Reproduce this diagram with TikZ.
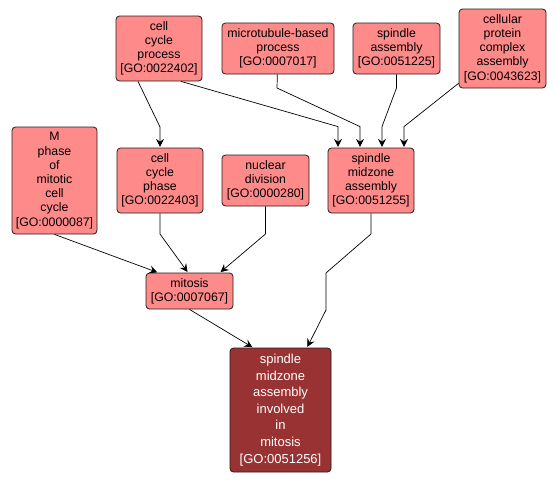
\documentclass[tikz,border=0pt]{standalone}
\usepackage{fontspec}
\setmainfont{Liberation Sans}
\usetikzlibrary{arrows.meta,positioning}
\definecolor{TermFill}{HTML}{FF8A8A}
\definecolor{TargetFill}{HTML}{993333}
\definecolor{TermLine}{HTML}{2A1A1A}

\begin{document}
\begin{tikzpicture}[x=1pt,y=-1pt,>={Stealth[length=8pt,width=8pt,inset=3pt]}]
    \tikzset{
      term/.style={draw=TermLine,line width=0.8pt,rounded corners=3.5pt,fill=TermFill,align=center,
        inner sep=0pt,font=\fontsize{12.3}{14.2}\selectfont},
      target/.style={term,fill=TargetFill,text=white,font=\fontsize{13}{16.6}\selectfont},
      edge/.style={->,line width=0.7pt,black,shorten >=0.8pt}
    }
    \useasboundingbox (0,0) rectangle (558,482);
    % top row
    \node[term,minimum width=86pt,minimum height=65pt] (ccp) at (159,48.5) {cell\\cycle\\process\\{[GO:0022402]}};
    \node[term,minimum width=112pt,minimum height=51pt] (mtb) at (278,48.5) {microtubule-based\\process\\{[GO:0007017]}};
    \node[term,minimum width=87pt,minimum height=51pt] (spa) at (396.5,48.5) {spindle\\assembly\\{[GO:0051225]}};
    \node[term,minimum width=87pt,minimum height=79pt] (cpca) at (502.5,48.5) {cellular\\protein\\complex\\assembly\\{[GO:0043623]}};
    % middle row
    \node[term,minimum width=85pt,minimum height=107pt] (mph) at (54.5,180.5) {M\\phase\\of\\mitotic\\cell\\cycle\\{[GO:0000087]}};
    \node[term,minimum width=86pt,minimum height=65pt] (ccph) at (160,180.5) {cell\\cycle\\phase\\{[GO:0022403]}};
    \node[term,minimum width=87pt,minimum height=51pt] (nucd) at (265.5,180.5) {nuclear\\division\\{[GO:0000280]}};
    \node[term,minimum width=86pt,minimum height=65pt] (smz) at (371,180.5) {spindle\\midzone\\assembly\\{[GO:0051255]}};
    % lower rows
    \node[term,minimum width=87pt,minimum height=36pt] (mit) at (189.5,291) {mitosis\\{[GO:0007067]}};
    \node[target,minimum width=101pt,minimum height=124pt] (tgt) at (280.5,410) {spindle\\midzone\\assembly\\involved\\in\\mitosis\\{[GO:0051256]}};

    \draw[edge] ([xshift=-21pt]ccp.south) -- (160,127) -- (ccph.north);
    \draw[edge] ([xshift=22pt]ccp.south) -- ([xshift=-33pt,yshift=21pt]smz.north) -- ([xshift=-33pt]smz.north);
    \draw[edge] (mtb) -- (277,88) -- ([xshift=-11pt,yshift=21pt]smz.north) -- ([xshift=-11pt]smz.north);
    \draw[edge] (spa) -- (396.5,88) -- ([xshift=11pt,yshift=21pt]smz.north) -- ([xshift=11pt]smz.north);
    \draw[edge] (cpca) -- ([xshift=33pt,yshift=21pt]smz.north) -- ([xshift=33pt]smz.north);
    \draw[edge] (mph.south) -- ([xshift=-31.5pt]mit.north);
    \draw[edge] (ccph) -- (160,234) -- ([xshift=-1.5pt]mit.north);
    \draw[edge] (nucd) -- (265.5,234) -- ([xshift=30.5pt]mit.north);
    \draw[edge] (mit.south) -- ([xshift=-27.5pt]tgt.north);
    \draw[edge] (smz) -- (371,234) -- (326,273) -- (326,310) -- ([xshift=26.5pt]tgt.north);
\end{tikzpicture}
\end{document}
